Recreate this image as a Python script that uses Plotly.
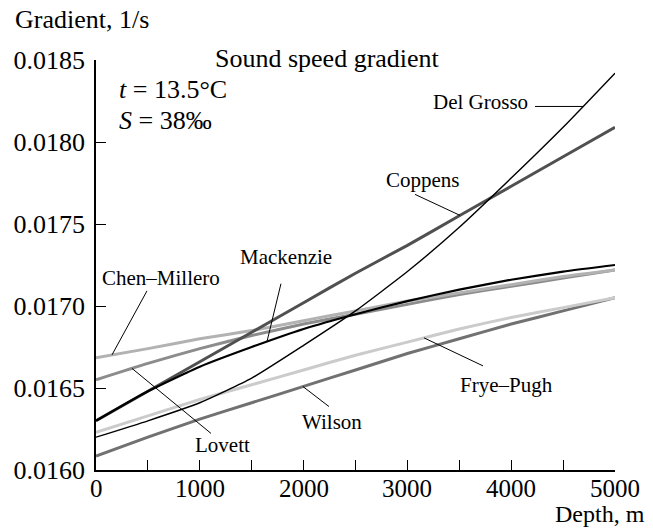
import numpy as np
import plotly.graph_objects as go

# Depth grid, m
depth = [0, 500, 1000, 1500, 2000, 2500, 3000, 3500, 4000, 4500, 5000]

# Sound speed gradient, 1/s, by formula
del_grosso = [0.01620, 0.01630, 0.01641, 0.01656, 0.01676, 0.01697, 0.01721, 0.01748, 0.01778, 0.01809, 0.01842]
coppens = [0.01630, 0.01648, 0.01666, 0.01684, 0.01702, 0.01720, 0.01737, 0.01755, 0.01773, 0.01791, 0.01809]
mackenzie = [0.01630, 0.01648, 0.01663, 0.01675, 0.01686, 0.01695, 0.01703, 0.01710, 0.01716, 0.01721, 0.01725]
chen_millero = [0.016685, 0.01674, 0.01680, 0.01685, 0.01691, 0.01697, 0.01703, 0.01708, 0.01713, 0.01718, 0.01722]
lovett = [0.01655, 0.01665, 0.01674, 0.01682, 0.01689, 0.01695, 0.01701, 0.01707, 0.01712, 0.01717, 0.01722]
frye_pugh = [0.01623, 0.01633, 0.01643, 0.01652, 0.01661, 0.01670, 0.01678, 0.01686, 0.01693, 0.01699, 0.01705]
wilson = [0.016085, 0.01620, 0.01631, 0.01641, 0.01651, 0.01661, 0.01671, 0.01680, 0.01689, 0.01697, 0.01705]

x_ticks = [0, 500, 1000, 1500, 2000, 2500, 3000, 3500, 4000, 4500, 5000]
x_label_vals = [0, 1000, 2000, 3000, 4000, 5000]
x_label_text = ["0", "1000", "2000", "3000", "4000", "5000"]
y_ticks = [0.0160, 0.0165, 0.0170, 0.0175, 0.0180, 0.0185]

SERIF = "Liberation Serif, Times New Roman, serif"

# name, values, colour, width, label anchor depth, leader end (px), label centre (px)
curves = [
    ("Wilson", wilson, "#717171", 3, 1994, (26, -20), (29, -35)),
    ("Frye–Pugh", frye_pugh, "#cbcbcb", 3, 3160, (59, -28), (82, -47)),
    ("Lovett", lovett, "#8c8c8c", 3, 347, (79, -65), (90, -77)),
    ("Chen–Millero", chen_millero, "#b2b2b2", 3, 154, (35, 64), (49, 77)),
    ("Coppens", coppens, "#505050", 3, 3507, (-45, 21), (-37, 35)),
    ("Mackenzie", mackenzie, "#000000", 2.2, 1647, (14, 58), (19, 85)),
    ("Del Grosso", del_grosso, "#000000", 1.4, 4692, (-48, 0), (-103, 4)),
]

fig = go.Figure()
shapes = []
annotations = []
for name, vals, color, w, d_lab, lead, txt in curves:
    fig.add_trace(go.Scatter(
        x=depth, y=vals, mode="lines", name=name,
        line=dict(color=color, width=w, shape="spline", smoothing=0.5),
        showlegend=False, hoverinfo="skip",
    ))
    y_lab = float(np.interp(d_lab, depth, vals))
    shapes.append(dict(
        type="line", xref="x", yref="y",
        xsizemode="pixel", ysizemode="pixel",
        xanchor=d_lab, yanchor=y_lab,
        x0=0, y0=0, x1=lead[0], y1=lead[1],
        line=dict(color="black", width=1),
    ))
    annotations.append(dict(
        x=d_lab, y=y_lab, xref="x", yref="y",
        text=name, showarrow=False,
        xshift=txt[0], yshift=txt[1],
        xanchor="center", yanchor="middle",
        font=dict(family=SERIF, size=21, color="black"),
    ))

W, H = 653, 529
ML, MR, MT, MB = 96, 38, 60, 59
pw, ph = W - ML - MR, H - MT - MB


def paper_y(py):
    return 1 - (py - MT) / ph


def page_text(px, py, text, anchor, size=26):
    # place a text by page pixel position
    return dict(x=(px - ML) / pw, y=paper_y(py), xref="paper", yref="paper",
                text=text, showarrow=False, xanchor=anchor, yanchor="middle",
                font=dict(family=SERIF, size=size, color="black"))


# depth tick labels, set close under the axis line
for v, t in zip(x_label_vals, x_label_text):
    annotations.append(dict(
        x=v, y=paper_y(488), xref="x", yref="paper", text=t, showarrow=False,
        xanchor="center", yanchor="middle",
        font=dict(family=SERIF, size=25, color="black"),
    ))

annotations += [
    page_text(13, 20, "Gradient, 1/s", "left"),
    page_text(327, 58, "Sound speed gradient", "center"),
    page_text(117, 90, "<i>t</i> = 13.5°C", "left"),
    page_text(117, 120, "<i>S</i> = 38‰", "left"),
    page_text(647, 514, "Depth, m", "right", size=24),
]

fig.update_layout(
    width=W, height=H,
    margin=dict(l=ML, r=MR, t=MT, b=MB, pad=0),
    paper_bgcolor="white", plot_bgcolor="white",
    shapes=shapes, annotations=annotations,
    font=dict(family=SERIF, size=26, color="black"),
    xaxis=dict(
        range=[0, 5000], tickvals=x_ticks, showticklabels=False,
        ticks="inside", ticklen=10, tickwidth=1.2, tickcolor="black",
        showline=True, linecolor="black", linewidth=1.5,
        showgrid=False, zeroline=False,
    ),
    yaxis=dict(
        range=[0.0160, 0.0185], tickvals=y_ticks, tickformat=".4f",
        ticks="inside", ticklen=10, tickwidth=1.2, tickcolor="black",
        showline=True, linecolor="black", linewidth=1.5,
        showgrid=False, zeroline=False, ticklabelstandoff=4,
        tickfont=dict(family=SERIF, size=26, color="black"),
    ),
)

fig.write_html("out.html")
